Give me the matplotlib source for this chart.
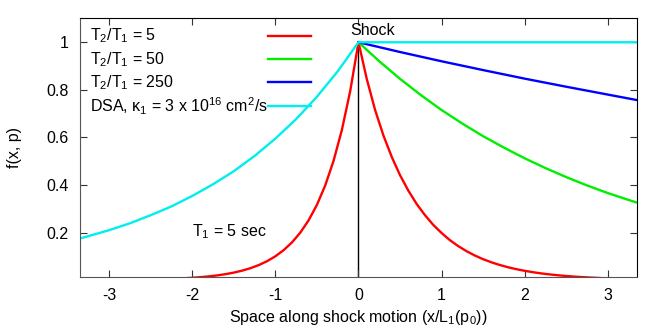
import numpy as np
import matplotlib
matplotlib.use('agg')
import matplotlib.pyplot as plt

plt.rcParams['font.family'] = ['Liberation Sans', 'DejaVu Sans']
plt.rcParams['mathtext.fontset'] = 'custom'
plt.rcParams['mathtext.rm'] = 'Liberation Sans'
plt.rcParams['mathtext.it'] = 'Liberation Sans'
plt.rcParams['axes.unicode_minus'] = False

########################## data ##########################
# upstream (x<0) profile, T1 = 5 sec
x_red_up = [-2.1, -2.0, -1.9, -1.8, -1.7, -1.6, -1.5, -1.4, -1.3, -1.2, -1.1,
            -1.0, -0.9, -0.8, -0.7, -0.6, -0.5, -0.4, -0.3, -0.2, -0.1, 0.0]
f_red_up = [0.008, 0.010, 0.0126, 0.0159, 0.020, 0.0252, 0.0317, 0.040, 0.0503,
            0.0633, 0.0797, 0.1003, 0.1262, 0.1588, 0.1999, 0.2516, 0.3166,
            0.3985, 0.5016, 0.6313, 0.7945, 1.0]
# downstream (x>0), T2/T1 = 5
x_red_dn = [0.0, 0.1, 0.2, 0.3, 0.4, 0.5, 0.6, 0.7, 0.8, 0.9, 1.0, 1.1, 1.2,
            1.3, 1.4, 1.5, 1.6, 1.7, 1.8, 1.9, 2.0, 2.1, 2.2, 2.3, 2.4, 2.5,
            2.6, 2.7, 2.8, 2.9]
f_red_dn = [1.0, 0.845, 0.715, 0.608, 0.518, 0.441, 0.376, 0.320, 0.273, 0.232,
            0.198, 0.168, 0.143, 0.1217, 0.1035, 0.088, 0.0749, 0.0637, 0.0541,
            0.046, 0.0392, 0.0333, 0.0283, 0.0241, 0.0205, 0.0174, 0.0148,
            0.0126, 0.0107, 0.0091]
# T2/T1 = 50
x_green = [0.0, 0.25, 0.5, 0.75, 1.0, 1.25, 1.5, 1.75, 2.0, 2.25, 2.5, 2.75,
           3.0, 3.25, 3.35]
f_green = [1.0, 0.920, 0.846, 0.778, 0.715, 0.658, 0.605, 0.557, 0.512, 0.471,
           0.433, 0.398, 0.366, 0.337, 0.326]
# T2/T1 = 250
x_blue = [0.0, 0.5, 1.0, 1.5, 2.0, 2.5, 3.0, 3.35]
f_blue = [1.0, 0.959, 0.920, 0.883, 0.847, 0.813, 0.780, 0.757]
# DSA
x_cyan = [-3.35, -3.25, -3.0, -2.75, -2.5, -2.25, -2.0, -1.75, -1.5, -1.25,
          -1.0, -0.75, -0.5, -0.25, 0.0, 3.35]
f_cyan = [0.175, 0.185, 0.210, 0.239, 0.273, 0.310, 0.354, 0.403, 0.458, 0.522,
          0.595, 0.677, 0.771, 0.878, 1.0, 1.0]

labels = [r'T$_2$/T$_1$ = 5', r'T$_2$/T$_1$ = 50', r'T$_2$/T$_1$ = 250',
          r'DSA, κ$_1$ = 3 x 10$^{16}$ cm$^2$/s']
colors = ['#ff0000', '#00ee00', '#0000ff', '#00eeee']

########################## plot ##########################
fig = plt.figure(figsize=(6.64, 3.29), dpi=100)
ax = fig.add_axes([80/664, 1-277.3/329, 557/664, 259.3/329])

lw = 1.7
fs = 11.5
ax.plot([0, 0], [0, 1], color='black', lw=1.0, zorder=1)
ax.plot(x_red_up, f_red_up, color=colors[0], lw=lw)
ax.plot(x_red_dn, f_red_dn, color=colors[0], lw=lw)
ax.plot(x_green, f_green, color=colors[1], lw=lw)
ax.plot(x_blue, f_blue, color=colors[2], lw=lw)
ax.plot(x_cyan, f_cyan, color=colors[3], lw=lw)

ax.set_xlim(-3.35, 3.35)
ax.set_ylim(0.012, 1.102)
ax.set_xticks([-3, -2, -1, 0, 1, 2, 3])
ax.set_yticks([0.2, 0.4, 0.6, 0.8, 1.0])
ax.set_yticklabels(['0.2', '0.4', '0.6', '0.8', '1'])
ax.tick_params(direction='in', length=5, width=0.8, top=True, right=True,
               labelsize=fs, colors='#333333', labelcolor='black')
ax.tick_params(axis='x', pad=8)
ax.tick_params(axis='y', pad=8)
for s in ['left', 'bottom']:
    ax.spines[s].set_color('#555555')
for s in ['top', 'right']:
    ax.spines[s].set_color('black')

ax.set_xlabel(r'Space along shock motion (x/L$_1$(p$_0$))', fontsize=fs, labelpad=3)
ax.set_ylabel('f(x, p)', fontsize=fs, labelpad=18)

# key
key_y = [0.932, 0.841, 0.752, 0.661]
for lab, col, yy in zip(labels, colors, key_y):
    ax.text(0.018, yy, lab, transform=ax.transAxes, fontsize=fs, va='center', ha='left')
    ax.plot([0.3375, 0.4147], [yy, yy], transform=ax.transAxes, color=col, lw=lw)

ax.text(-0.1, 1.05, 'Shock', fontsize=fs, va='center', ha='left')
ax.text(-2.0, 0.205, r'T$_1$ = 5 sec', fontsize=fs, va='center', ha='left')

plt.savefig('out.png', dpi=100)
